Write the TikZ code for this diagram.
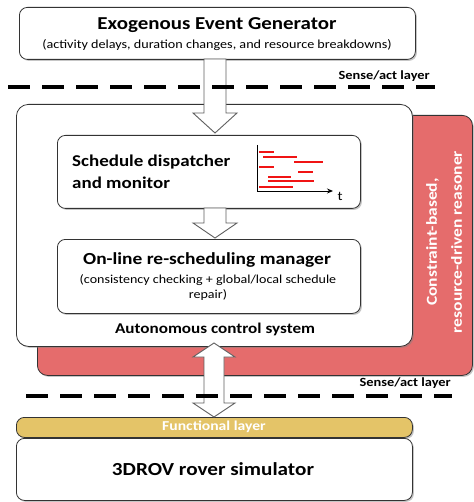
\documentclass[tikz,border=0pt]{standalone}
\usepackage{fontspec}
\setmainfont{Carlito}[FakeStretch=1.15]
\usetikzlibrary{shadows,calc,arrows.meta}
\definecolor{redbox}{RGB}{229,108,108}
\definecolor{goldbox}{RGB}{228,196,104}
\definecolor{arrgray}{RGB}{95,95,95}
\definecolor{barred}{RGB}{240,20,20}
\newcommand\blkdown[3]{% start, tip, head length
  \draw[blk] let \p1=(#1), \p2=(#2) in
    (\x2-11pt,\y1) -- (\x2-11pt,\y2+#3) -- (\x2-22pt,\y2+#3) -- (\x2,\y2)
    -- (\x2+22pt,\y2+#3) -- (\x2+11pt,\y2+#3) -- (\x2+11pt,\y1) -- cycle;}
\begin{document}
\begin{tikzpicture}[x=1pt,y=-1pt,
  box/.style={draw=black!80, line width=0.8pt, fill=white, rounded corners=8pt,
    drop shadow={shadow xshift=1.5pt,shadow yshift=-1.5pt,opacity=0.45}},
  blk/.style={draw=arrgray, fill=white, line width=0.9pt, line join=miter},
  layerline/.style={line width=3.5pt, dash pattern=on 22pt off 12pt},
  bar/.style={barred, line width=2.2pt},
  lbl/.style={font=\bfseries\fontsize{12.5}{14}\selectfont, inner sep=0pt},
  ttl/.style={font=\bfseries\fontsize{18.2}{21}\selectfont, inner sep=0pt},
  sub/.style={font=\fontsize{12.3}{15}\selectfont, inner sep=0pt, align=center},
]
\useasboundingbox (0,0) rectangle (473,502);
% reasoner background
\node[box, fill=redbox, rounded corners=10pt, minimum width=435pt, minimum height=260pt, anchor=north west] (rsn) at (37,115) {};
\node[font=\bfseries\fontsize{15.2}{25}\selectfont, text=white, rotate=90, align=center, inner sep=0pt] (rsnt) at (444,242) {Constraint-based,\\resource-driven reasoner};
% generator
\node[box, minimum width=396pt, minimum height=52pt, anchor=north west] (gen) at (19,7) {};
\node[ttl] (gent) at (217,25) {Exogenous Event Generator};
\node[sub] (gens) at (217,45) {(activity delays, duration changes, and resource breakdowns)};
% autonomous control system
\node[box, rounded corners=12pt, minimum width=396pt, minimum height=242pt, anchor=north west] (acs) at (16,104) {};
\node[font=\bfseries\fontsize{14.9}{16}\selectfont, inner sep=0pt] (acst) at (215,329) {Autonomous control system};
% dispatcher
\node[box, minimum width=303pt, minimum height=73pt, anchor=north west] (dsp) at (57,135) {};
\node[ttl, align=left, anchor=west, font=\bfseries\fontsize{16.5}{22}\selectfont] (dspt) at (72,172) {Schedule dispatcher\\and monitor};
% gantt
\coordinate (go) at (257,191);
\draw[line width=0.9pt] (257,145) -- (go);
\draw[line width=0.9pt, -{Stealth[length=6pt,width=5pt]}] (go) -- (333,191);
\node[font=\fontsize{13}{15}\selectfont, inner sep=0pt] (tt) at (340,196) {t};
\draw[bar] (259,152) -- (274,152);
\draw[bar] (263,157) -- (297,157);
\draw[bar] (294,162) -- (323,162);
\draw[bar] (259,167) -- (274,167);
\draw[bar] (298,172) -- (313,172);
\draw[bar] (268,177) -- (291,177);
\draw[bar] (268,181) -- (314,181);
\draw[bar] (259,187) -- (293,187);
% rescheduling
\node[box, minimum width=303pt, minimum height=74pt, anchor=north west] (rsm) at (57,239) {};
\node[ttl, font=\bfseries\fontsize{16.9}{21}\selectfont] (rsmt) at (207,260) {On-line re-scheduling manager};
\node[sub, font=\fontsize{12.2}{15}\selectfont] (rsms) at (208,288) {(consistency checking + global/local schedule\\repair)};
% functional layer and simulator
\node[box, fill=goldbox, minimum width=396pt, minimum height=20pt, anchor=north west] (fun) at (16,417) {};
\node[lbl, text=white, font=\bfseries\fontsize{13.6}{15}\selectfont] (funt) at (214,427) {Functional layer};
\node[box, minimum width=396pt, minimum height=62pt, anchor=north west] (sim) at (16,438) {};
\node[ttl, font=\bfseries\fontsize{18.4}{21}\selectfont] (simt) at (213,469) {3DROV rover simulator};
% block arrows
\coordinate (a1s) at (215,59);
\coordinate (a1t) at (215,133);
\blkdown{a1s}{a1t}{20pt}
\coordinate (a2s) at (215,208);
\coordinate (a2t) at (215,238);
\blkdown{a2s}{a2t}{15pt}
\coordinate (a3t) at (214,343);
\coordinate (a3b) at (214,417);
\draw[blk] let \p1=(a3t), \p2=(a3b) in
  (\x1,\y1) -- (\x1+21pt,\y1-14pt) -- (\x1+10pt,\y1-14pt) -- (\x2+10pt,\y2+14pt)
  -- (\x2+21pt,\y2+14pt) -- (\x2,\y2) -- (\x2-21pt,\y2+14pt) -- (\x2-10pt,\y2+14pt)
  -- (\x1-10pt,\y1-14pt) -- (\x1-21pt,\y1-14pt) -- cycle;
% layer lines
\coordinate (l1a) at (8,87);
\coordinate (l1b) at (435,87);
\draw[layerline] (l1a) -- (l1b);
\node[lbl, anchor=east] (l1t) at (430,76) {Sense/act layer};
\coordinate (l2a) at (26,396);
\coordinate (l2b) at (452,396);
\draw[layerline] (l2a) -- (l2b);
\node[lbl, anchor=east] (l2t) at (451,383) {Sense/act layer};
\end{tikzpicture}
\end{document}
